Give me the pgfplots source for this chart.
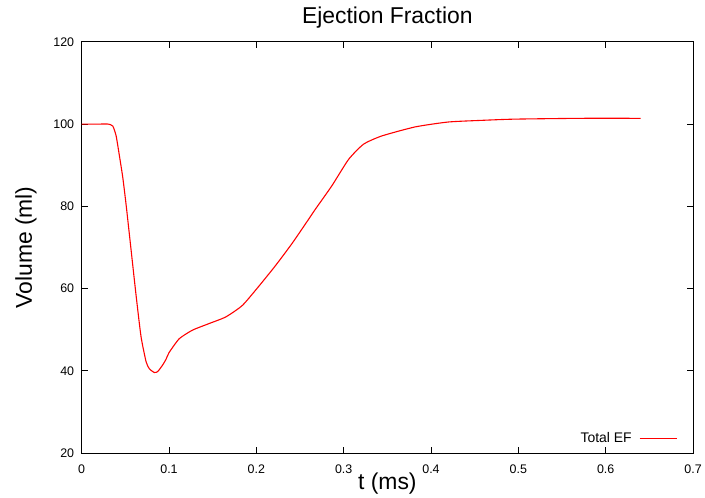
\documentclass[border=0pt]{standalone}
\usepackage{pgfplots}
\pgfplotsset{compat=1.18}
\usepackage{fontspec}
\setmainfont{Liberation Sans}
\begin{document}
\begin{tikzpicture}[x=1pt,y=1pt]
\begin{axis}[
    scale only axis,
    width=614pt, height=413pt,
    xmin=0, xmax=0.7, ymin=20, ymax=120,
    xtick={0,0.1,...,0.7}, ytick={20,40,...,120},
    xticklabels={0,0.1,0.2,0.3,0.4,0.5,0.6,0.7},
    /pgf/number format/assume math mode=true,
    tick label style={font=\fontsize{12.5}{15}\selectfont},
    xticklabel style={yshift=-8pt},
    yticklabel style={xshift=-4pt},
    tick style={black, line width=0.8pt},
    major tick length=6pt,
    axis line style={line width=1pt},
    title={Ejection Fraction},
    title style={font=\fontsize{23}{27}\selectfont, at={(0.5,1)}, anchor=base, yshift=12pt},
    xlabel={t (ms)},
    ylabel={Volume (ml)},
    label style={font=\fontsize{23}{27}\selectfont},
    xlabel style={at={(axis description cs:0.5,0)}, anchor=base, yshift=-37pt},
    ylabel style={at={(axis description cs:0,0.5)}, anchor=base, yshift=50pt},
    legend style={draw=none, fill=none, font=\fontsize{14}{16}\selectfont,
        at={(1,0)}, anchor=south east, xshift=-12pt, yshift=5pt},
    legend cell align=right,
    legend plot pos=right,
    legend image code/.code={\path[draw=none, fill=none] (0pt,-1pt) rectangle (6pt,1pt);
        \draw[#1, line width=0.9pt] (6pt,0pt) -- (44pt,0pt);},
]
\addplot[red, line width=1.1pt, smooth, tension=0.35] coordinates {
(0.000,100.0) (0.020,100.0) (0.0303,100.0) (0.0357,99.5) (0.0395,97.1)
(0.0433,92.2) (0.0471,87.0) (0.051,80.2) (0.0567,69.2)
(0.0624,58.2) (0.068,48.3) (0.0738,42.2) (0.0775,40.5) (0.0832,39.6)
(0.087,39.8) (0.0927,41.4) (0.0966,42.8) (0.100,44.4) (0.1117,47.8)
(0.127,49.9) (0.146,51.5) (0.165,53.1) (0.184,55.9) (0.203,60.6)
(0.222,65.6) (0.241,71.0) (0.260,76.9) (0.2676,79.3) (0.2865,85.0)
(0.3056,91.4) (0.3227,95.1) (0.3435,97.1) (0.3816,99.3) (0.4196,100.5)
(0.4575,100.9) (0.4956,101.2) (0.5716,101.4) (0.640,101.4)
};
\addlegendentry{Total EF}
\end{axis}
\path (current axis.south west) ++(-82pt,-44pt) coordinate (bl);
\path (current axis.north east) ++(9pt,42pt) coordinate (tr);
\useasboundingbox (bl) rectangle (tr);
\end{tikzpicture}
\end{document}
